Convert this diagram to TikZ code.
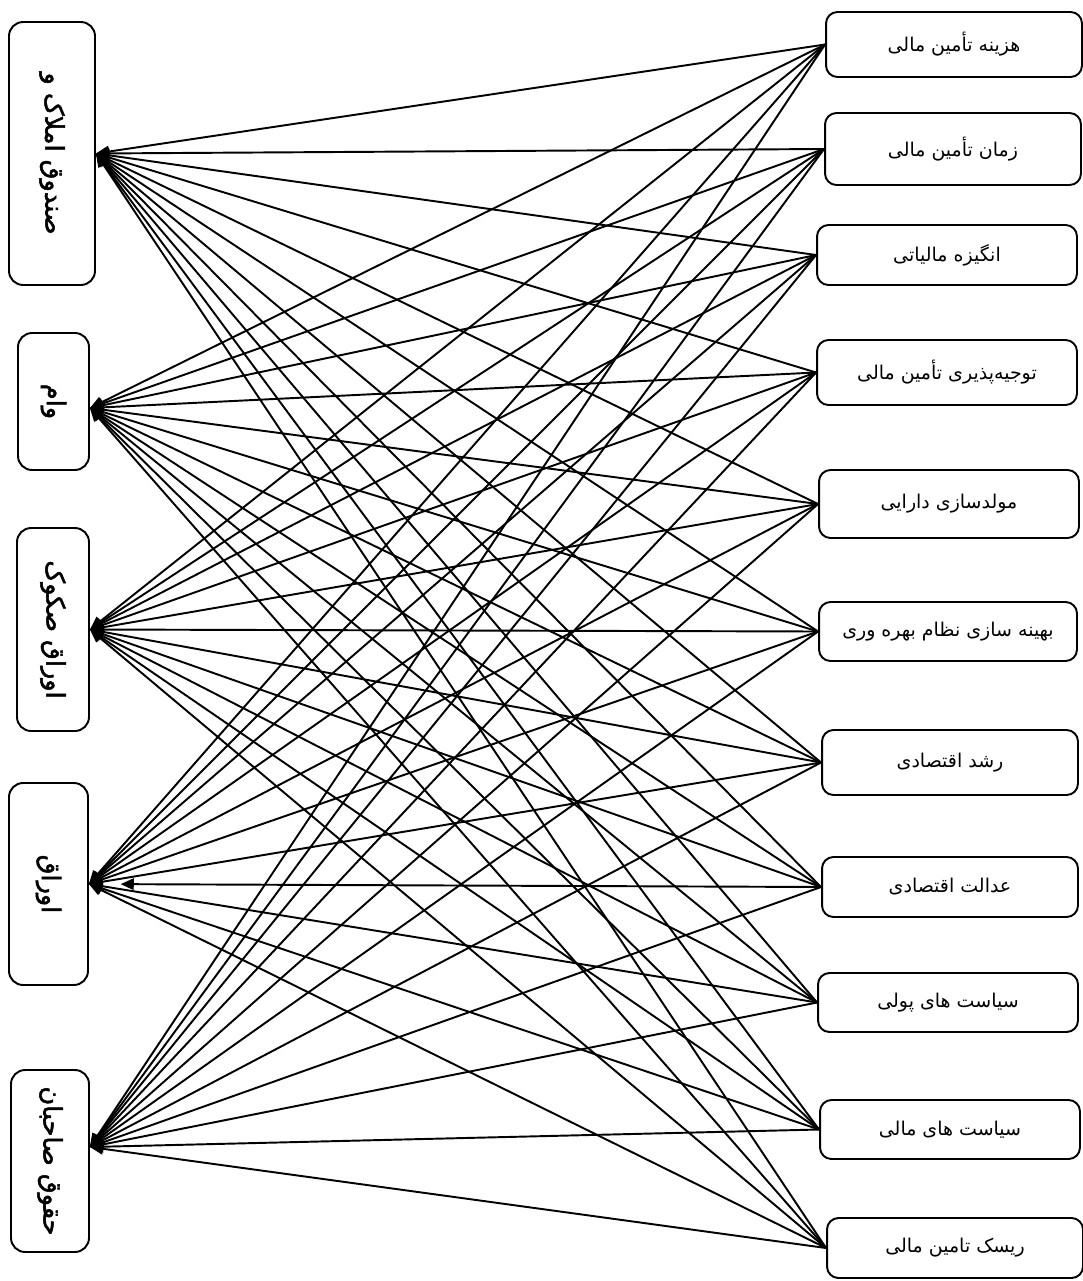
\documentclass[tikz,border=0pt]{standalone}
\usepackage{graphicx}
\usepackage{fontspec}
\usetikzlibrary{arrows.meta}
\newfontfamily\farsi[Script=Arabic]{DejaVu Sans}
\newfontfamily\farsibold[Script=Arabic,FakeBold=2]{DejaVu Sans}
\TeXXeTstate=1

\newcommand{\fa}[1]{\beginR #1\endR}
\newcommand{\upfa}[1]{\rotatebox{-90}{\beginR #1\endR}}

\tikzset{
  rbox/.style={draw,line width=1.1pt,rounded corners=6.5pt,inner sep=0pt,
    font=\farsi\fontsize{10.8}{12}\selectfont},
  lbox/.style={draw,line width=1.1pt,rounded corners=8pt,inner sep=0pt,
    font=\farsibold\fontsize{14.5}{16}\selectfont},
  link/.style={line width=1.1pt,-{Triangle[length=7.5pt,width=6.5pt]}}
}

\begin{document}
\begin{tikzpicture}[x=0.02cm,y=-0.02cm]
\useasboundingbox (0,0) rectangle (1082,1281);

% left column
\node[lbox,minimum width=17.2mm,minimum height=52.6mm] (l1) at (52,153.5) {\upfa{صندوق املاک و}};
\node[lbox,minimum width=14.2mm,minimum height=27.4mm] (l2) at (53.5,401.5) {\upfa{وام}};
\node[lbox,minimum width=14.4mm,minimum height=40.6mm] (l3) at (53,629.5) {\upfa{اوراق صکوک}};
\node[lbox,minimum width=15.8mm,minimum height=40.4mm] (l4) at (48.5,884) {\upfa{اوراق}};
\node[lbox,minimum width=15.6mm,minimum height=36.4mm] (l5) at (50,1161) {\upfa{حقوق صاحبان}};

% right column
\node[rbox,minimum width=51.2mm,minimum height=13mm] (r1) at (954,44.5) {\fa{هزینه تأمین مالی}};
\node[rbox,minimum width=51.2mm,minimum height=14.4mm] (r2) at (953,149) {\fa{زمان تأمین مالی}};
\node[rbox,minimum width=52mm,minimum height=12mm] (r3) at (947,255) {\fa{انگیزه مالیاتی}};
\node[rbox,minimum width=52mm,minimum height=13mm] (r4) at (947,372.5) {\fa{توجیه‌پذیری تأمین مالی}};
\node[rbox,minimum width=52mm,minimum height=13.6mm] (r5) at (949,504) {\fa{مولدسازی دارایی}};
\node[rbox,minimum width=51.6mm,minimum height=11.8mm] (r6) at (948,631.5) {\fa{بهینه سازی نظام بهره وری}};
\node[rbox,minimum width=51.2mm,minimum height=13mm] (r7) at (950,762.5) {\fa{رشد اقتصادی}};
\node[rbox,minimum width=51.2mm,minimum height=12mm] (r8) at (950,887) {\fa{عدالت اقتصادی}};
\node[rbox,minimum width=52mm,minimum height=11.8mm] (r9) at (948,1002.5) {\fa{سیاست های پولی}};
\node[rbox,minimum width=52mm,minimum height=11.8mm] (r10) at (950,1129.5) {\fa{سیاست های مالی}};
\node[rbox,minimum width=51.2mm,minimum height=12mm] (r11) at (955,1248) {\fa{ریسک تامین مالی}};

\foreach \src in {1,...,11}
{
 \foreach \dst/\dy in {1/0,2/-0.13,3/0,4/0,5/0.28}
 {
  \ifnum\src\dst=84
   \draw[link,shorten >=18pt] (r\src.west) -- ([yshift=\dy cm]l\dst.east);
  \else
   \draw[link] (r\src.west) -- ([yshift=\dy cm]l\dst.east);
  \fi
 }
}

\end{tikzpicture}
\end{document}
